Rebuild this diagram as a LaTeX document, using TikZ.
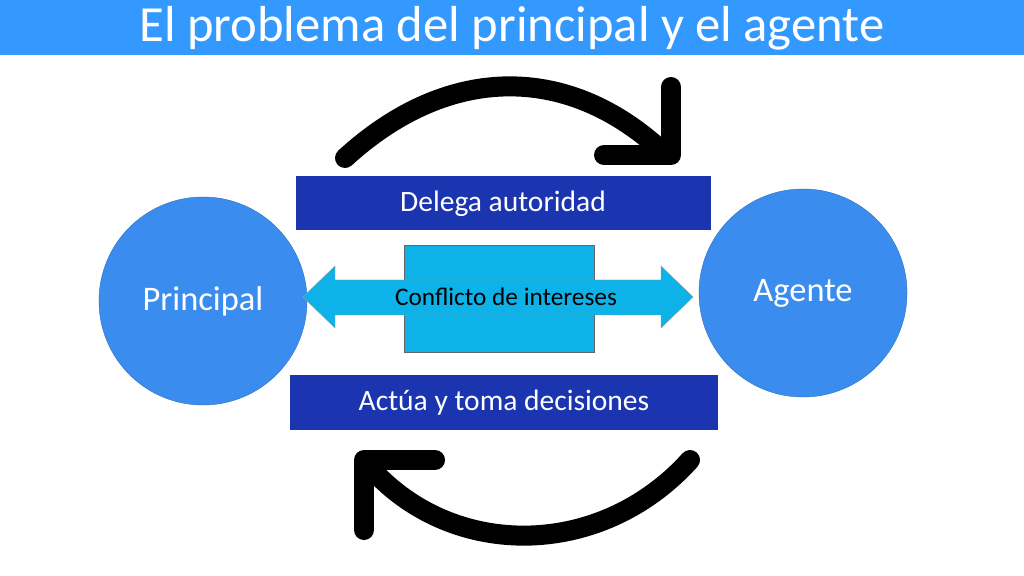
\documentclass[tikz,border=0pt]{standalone}
\usepackage{fontspec}
\setmainfont{Carlito}
\definecolor{titleblue}{HTML}{3399FF}
\definecolor{boxblue}{HTML}{1B35B0}
\definecolor{circblue}{HTML}{3A8DEE}
\definecolor{conflict}{HTML}{0DB3E8}
\tikzset{
  bar/.style={fill=boxblue},
  bartext/.style={text=white, font=\fontsize{21}{24}\selectfont},
  party/.style={circle, fill=circblue, draw=circblue!80!black, line width=0.3pt, minimum size=5.2cm, text=white, font=\fontsize{24.5}{28}\selectfont},
  turn/.style={line width=0.5cm, line cap=round, line join=round}
}
\begin{document}
\begin{tikzpicture}[x=0.025cm,y=-0.025cm]
\useasboundingbox (0,0) rectangle (1024,576);
% title
\fill[titleblue] (0,0) rectangle (1024,55);
\node[text=white, font=\fontsize{36}{40}\selectfont] (title) at (512,28) {El problema del principal y el agente};
% actors
\node[party] (principal) at (203,301) {Principal};
\node[party] (agente) at (803,293) {Agente};
% bars
\path[bar] (296,176) rectangle (711,230);
\node[bartext] (delega) at (503,204) {Delega autoridad};
\path[bar] (290,375) rectangle (718,430);
\node[bartext] (actua) at (504,403) {Actúa y toma decisiones};
% conflict
\draw[fill=conflict, draw=black!60, line width=0.3pt] (404,245) rectangle (594,352);
\draw[fill=conflict, draw=black!40, line width=0.3pt] (303,297) -- (335,266) -- (335,280) -- (661,280)
  -- (661,266) -- (693,297) -- (661,328) -- (661,315) -- (335,315) -- (335,328) -- cycle;
\node[font=\fontsize{18}{20}\selectfont] (conflicto) at (506,297) {Conflicto de intereses};
% cycle arrows
\draw[turn] (345,158) .. controls (450,62) and (570,65) .. (663,152);
\draw[turn] (604,155) -- (671,155) -- (671,87);
\draw[turn] (690,460) .. controls (600,560) and (450,560) .. (368,465);
\draw[turn] (435,460) -- (364,460) -- (364,530);
\end{tikzpicture}
\end{document}
